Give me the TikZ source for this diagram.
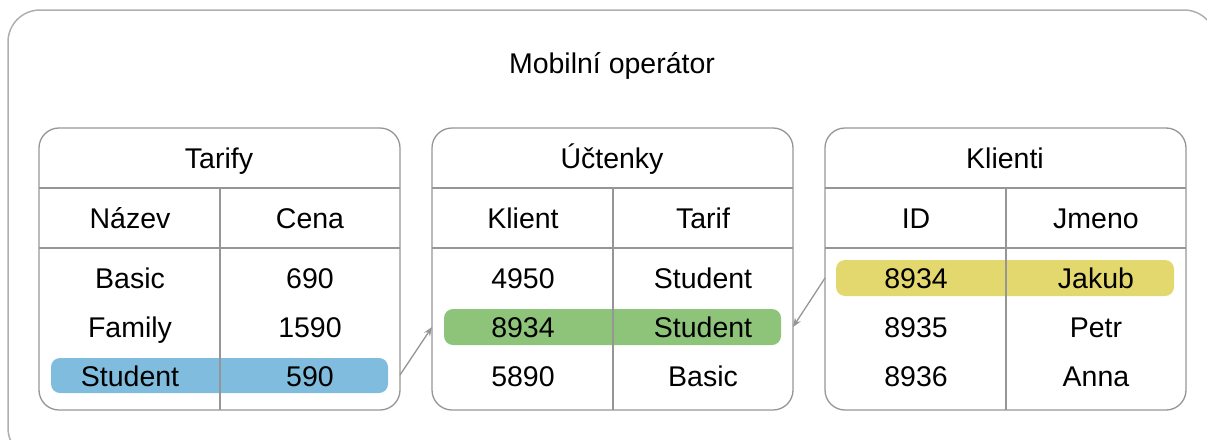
\documentclass[tikz,border=0pt]{standalone}
\usepackage{fontspec}
\setmainfont{Liberation Sans}
\usetikzlibrary{arrows.meta}
\definecolor{linegray}{RGB}{150,150,150}
\definecolor{outergray}{RGB}{175,175,175}
\definecolor{hlblue}{RGB}{128,188,221}
\definecolor{hlgreen}{RGB}{141,196,122}
\definecolor{hlyellow}{RGB}{227,216,110}
\tikzset{
  txt/.style={font=\fontsize{28.5}{33}\selectfont, inner sep=0pt, anchor=base, yshift=-10.2pt},
  tbl/.style={draw=linegray, line width=1.3pt, rounded corners=20pt},
  grid/.style={draw=linegray, line width=1.3pt},
  hl/.style={rounded corners=9pt},
  conn/.style={draw=linegray, line width=1.3pt, -{Stealth[length=9pt,width=7pt]}}
}
\begin{document}
\begin{tikzpicture}[x=1pt,y=-1pt]
\useasboundingbox (0,0) rectangle (1207,439);
\begin{scope}
\clip (0,0) rectangle (1207,439);
\draw[draw=outergray, line width=1.5pt, rounded corners=32pt] (8,10) rectangle (1216,460);
\end{scope}
\node[txt] (title) at (612,63) {Mobilní operátor};

% highlights
\fill[hlblue, hl] (51,358) rectangle (388,393);
\fill[hlgreen, hl] (444,309) rectangle (781,345);
\fill[hlyellow, hl] (836,260) rectangle (1174,296);

% Tarify
\draw[tbl] (39,128) rectangle (400,410);
\draw[grid] (39,188) -- (400,188);
\draw[grid] (39,248) -- (400,248);
\draw[grid] (220,188) -- (220,410);
\node[txt] (t1) at (219,158) {Tarify};
\node[txt] (t1a) at (130,218) {Název};
\node[txt] (t1b) at (310,218) {Cena};
\node[txt] at (130,278) {Basic};
\node[txt] at (310,278) {690};
\node[txt] at (130,327) {Family};
\node[txt] at (310,327) {1590};
\node[txt] at (130,376) {Student};
\node[txt] at (310,376) {590};

% Uctenky
\draw[tbl] (432,128) rectangle (793,410);
\draw[grid] (432,188) -- (793,188);
\draw[grid] (432,248) -- (793,248);
\draw[grid] (613,188) -- (613,410);
\node[txt] (t2) at (612,158) {Účtenky};
\node[txt] at (523,218) {Klient};
\node[txt] at (703,218) {Tarif};
\node[txt] at (523,278) {4950};
\node[txt] at (703,278) {Student};
\node[txt] at (523,327) {8934};
\node[txt] at (703,327) {Student};
\node[txt] at (523,376) {5890};
\node[txt] at (703,376) {Basic};

% Klienti
\draw[tbl] (825,128) rectangle (1186,410);
\draw[grid] (825,188) -- (1186,188);
\draw[grid] (825,248) -- (1186,248);
\draw[grid] (1006,188) -- (1006,410);
\node[txt] (t3) at (1005,158) {Klienti};
\node[txt] at (916,218) {ID};
\node[txt] at (1096,218) {Jmeno};
\node[txt] at (916,278) {8934};
\node[txt] at (1096,278) {Jakub};
\node[txt] at (916,327) {8935};
\node[txt] at (1096,327) {Petr};
\node[txt] at (916,376) {8936};
\node[txt] at (1096,376) {Anna};

% connectors
\coordinate (a1s) at (400,375);
\coordinate (a1e) at (432,327);
\coordinate (a2s) at (825,278);
\coordinate (a2e) at (793,327);
\draw[conn] (a1s) -- (a1e);
\draw[conn] (a2s) -- (a2e);
\end{tikzpicture}
\end{document}
